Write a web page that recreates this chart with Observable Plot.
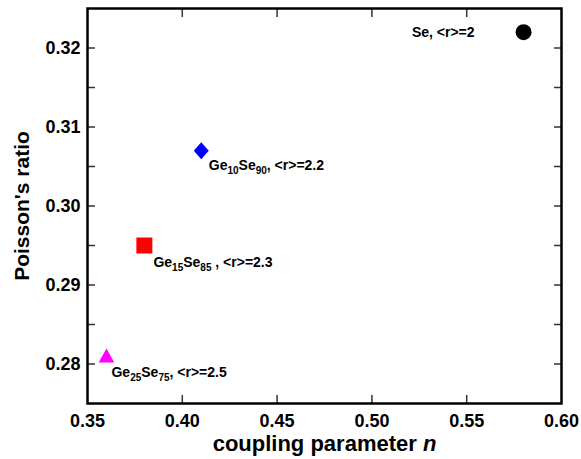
<!DOCTYPE html>
<html><head><meta charset="utf-8">
<script src="https://cdn.jsdelivr.net/npm/d3@7"></script>
<script src="https://cdn.jsdelivr.net/npm/@observablehq/plot@0.6"></script>
<style>body{margin:0;background:#fff;} svg{font-family:"Liberation Sans",Arial,sans-serif;}</style>
</head><body><div id="chart"></div>
<script>
// ---- data ----
const names = ["Se", "Ge10Se90", "Ge15Se85", "Ge25Se75"];
const coupling = [0.58, 0.41, 0.38, 0.36];
const poisson = [0.322, 0.307, 0.295, 0.281];
const labels = ["Se, <r>=2", "Ge{10}Se{90}, <r>=2.2", "Ge{15}Se{85} , <r>=2.3", "Ge{25}Se{75}, <r>=2.5"];
const colors = ["#000000", "#0000ff", "#ff0000", "#ff00ff"];
const xTickLabels = [0.35, 0.40, 0.45, 0.50, 0.55, 0.60];
const xInnerTicks = [0.40, 0.45, 0.50, 0.55];
const yTickLabels = [0.28, 0.29, 0.30, 0.31, 0.32];
const yInnerTicks = [0.28, 0.285, 0.29, 0.295, 0.30, 0.305, 0.31, 0.315, 0.32];

// ---- styles ----
const poly = pts => ({draw(ctx) { ctx.moveTo(...pts[0]); for (const p of pts.slice(1)) ctx.lineTo(...p); ctx.closePath(); }});
const symbolObjs = [
  {draw(ctx) { ctx.moveTo(8, 0); ctx.arc(0, 0, 8, 0, 2 * Math.PI); }},
  poly([[0, -8.5], [7.5, 0], [0, 8.5], [-7.5, 0]]),
  poly([[-8, -8], [8, -8], [8, 8], [-8, 8]]),
  poly([[0, -7.5], [7.8, 6.5], [-7.8, 6.5]])
];
const labelStyle = [
  {textAnchor: "end", dx: -49, dy: 0},
  {textAnchor: "start", dx: 7.5, dy: 15},
  {textAnchor: "start", dx: 9, dy: 17},
  {textAnchor: "start", dx: 5, dy: 16}
];
const tickStyle = {stroke: "#333", strokeWidth: 1.5, tickSize: -8, fill: "none", label: null};
const tickText = {fontSize: 18, fontWeight: "bold", fill: "#000", label: null, tickSize: 0};

const idx = d3.range(names.length);

const chart = Plot.plot({
  width: 581, height: 459,
  marginLeft: 87, marginRight: 20, marginTop: 8, marginBottom: 56,
  x: {domain: [0.35, 0.60]},
  y: {domain: [0.275, 0.325]},
  style: {fontFamily: "Liberation Sans, Arial, sans-serif", background: "#fff"},
  marks: [
    Plot.axisX(xInnerTicks, {anchor: "bottom", ...tickStyle}),
    Plot.axisX(xInnerTicks, {anchor: "top", ...tickStyle}),
    Plot.axisY(yInnerTicks, {anchor: "left", ...tickStyle}),
    Plot.axisY(yInnerTicks, {anchor: "right", ...tickStyle}),
    Plot.axisX(xTickLabels, {anchor: "bottom", ...tickText, tickPadding: 11, tickFormat: d3.format(".2f")}),
    Plot.axisY(yTickLabels, {anchor: "left", ...tickText, tickPadding: 7, tickFormat: d3.format(".2f")}),
    Plot.frame({stroke: "#000", strokeWidth: 2.5}),
    ...idx.map(i => Plot.dot([i], {x: j => coupling[j], y: j => poisson[j], symbol: symbolObjs[i], fill: colors[i], stroke: "none", r: 8})),
    ...idx.map(i => Plot.text([i], {x: j => coupling[j], y: j => poisson[j], text: j => labels[j], ...labelStyle[i], fontSize: 14, fontWeight: "bold", fill: "#000", className: "ptlabel"})),
    Plot.text(["coupling parameter n"], {frameAnchor: "bottom", textAnchor: "middle", dy: 47, fontSize: 22, fontWeight: "bold", fill: "#000", className: "xlab"}),
    Plot.text(["Poisson's ratio"], {frameAnchor: "left", textAnchor: "middle", dx: -65, rotate: -90, fontSize: 21, fontWeight: "bold", fill: "#000"})
  ]
});

const NS = "http://www.w3.org/2000/svg";
chart.querySelectorAll(".ptlabel text").forEach(el => {
  const s = el.textContent;
  el.textContent = "";
  let sub = false;
  for (const p of s.split(/(\{[^}]*\})/)) {
    if (!p) continue;
    const t = document.createElementNS(NS, "tspan");
    if (p.startsWith("{")) {
      t.textContent = p.slice(1, -1);
      t.setAttribute("font-size", "10");
      t.setAttribute("dy", "4");
      sub = true;
    } else {
      t.textContent = p;
      if (sub) t.setAttribute("dy", "-4");
      sub = false;
    }
    el.appendChild(t);
  }
});
chart.querySelectorAll(".xlab text").forEach(el => {
  el.textContent = "coupling parameter ";
  const t = document.createElementNS(NS, "tspan");
  t.setAttribute("font-style", "italic");
  t.textContent = "n";
  el.appendChild(t);
});
document.getElementById("chart").appendChild(chart);
</script>
</body></html>
